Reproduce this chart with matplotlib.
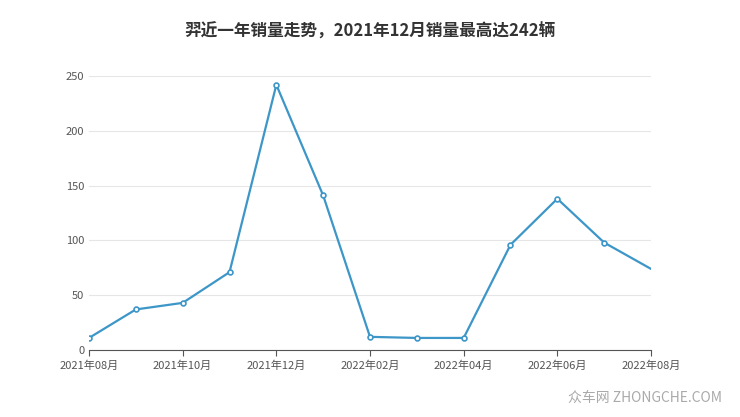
import matplotlib.pyplot as plt

plt.rcParams['font.family'] = ['Noto Sans CJK SC', 'DejaVu Sans']

months = ["2021年08月", "2021年09月", "2021年10月", "2021年11月", "2021年12月", "2022年01月",
          "2022年02月", "2022年03月", "2022年04月", "2022年05月", "2022年06月", "2022年07月", "2022年08月"]
sales = [11, 37, 43, 71, 242, 141, 12, 11, 11, 96, 138, 98, 74]
yticks = [0, 50, 100, 150, 200, 250]

fig = plt.figure(figsize=(7.4, 4.17), dpi=100)
ax = fig.add_axes([89/740, 1-350/417, (651-89)/740, (350-76)/417])

x = list(range(len(sales)))
ax.plot(x, sales, color='#3d96c8', lw=1.6, zorder=3)
ax.plot(x[:-1], sales[:-1], 'o', ms=3.5, mfc='white', mec='#3d96c8', mew=1.2, zorder=4)

ax.set_xlim(0, len(sales)-1)
ax.set_ylim(0, 250)
ax.set_yticks(yticks)
ax.set_xticks(x[::2])
ax.set_xticklabels(months[::2])
ax.grid(axis='y', color='#e6e6e6', lw=0.8)
ax.tick_params(axis='both', labelsize=8, colors='#555555', length=0)
ax.tick_params(axis='x', length=4, color='#555555')
for s in ['top', 'right', 'left']:
    ax.spines[s].set_visible(False)
ax.spines['bottom'].set_color('#555555')

fig.text(0.5, 1-32/417, "羿近一年销量走势，2021年12月销量最高达242辆", ha='center', va='center',
         fontsize=12, fontweight='bold', color='#333333')
fig.text(0.975, 1-398/417, "众车网 ZHONGCHE.COM", ha='right', va='center', fontsize=10, color='#aaaaaa')

fig.savefig("out.png", dpi=100)
